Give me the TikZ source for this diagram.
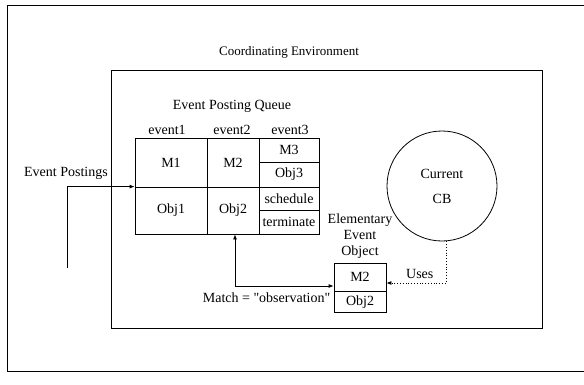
\documentclass[tikz,border=0pt]{standalone}
\usepackage{fontspec}
\setmainfont{Liberation Serif}
\usepackage{tikz}
\usetikzlibrary{arrows.meta, positioning, calc}

\tikzset{
    cell/.style={draw, inner sep=0pt, line width=0.8pt},
    lbl/.style={inner sep=1pt},
}

\begin{document}
\begin{tikzpicture}[x=1pt, y=-1pt, line width=0.8pt, font=\fontsize{14}{16}\selectfont]
    \useasboundingbox (0,0) rectangle (584,384);
    % frames
    \draw (584,5) -- (7,5) -- (7,371) -- (584,371);
    \draw (111,70) rectangle (542,328);
    \node[lbl, font=\fontsize{13}{16}\selectfont] (env) at (289,52) {Coordinating Environment};

    % event posting queue
    \node[lbl] (queue) at (232,106) {Event Posting Queue};
    \node[cell, minimum width=72, minimum height=49] (m1) at (171,162.5) {M1};
    \node[cell, minimum width=72, minimum height=47] (obj1) at (171,210.5) {Obj1};
    \node[cell, minimum width=52, minimum height=49] (m2) at (233,162.5) {M2};
    \node[cell, minimum width=52, minimum height=47] (obj2) at (233,210.5) {Obj2};
    \node[cell, minimum width=60, minimum height=24] (m3) at (289,150) {M3};
    \node[cell, minimum width=60, minimum height=25] (obj3) at (289,174.5) {Obj3};
    \node[cell, minimum width=60, minimum height=23] (sched) at (289,198.5) {schedule};
    \node[cell, minimum width=60, minimum height=24] (term) at (289,222) {terminate};
    \node[lbl] (ev1) at (167,130) {event1};
    \node[lbl] (ev2) at (232,130) {event2};
    \node[lbl] (ev3) at (290,130) {event3};

    % postings in
    \node[lbl] (post) at (66,173) {Event Postings};
    \coordinate (src) at (67,268);
    \draw[-{Latex[length=5pt,width=4pt]}] (src) |- (obj1.north west);

    % current CB
    \node[draw, circle, minimum size=110, inner sep=0pt, align=center] (cb) at (442,186) {Current\\[9pt]CB};

    % elementary event object
    \node[cell, minimum width=52, minimum height=28] (elm) at (360,277) {M2};
    \node[cell, minimum width=52, minimum height=21, below=0pt of elm] (elo) {Obj2};
    \node[lbl, align=center, above=3pt of elm] (eeo) {Elementary\\Event\\Object};

    \draw[dotted, -{Latex[length=5pt,width=4pt]}] ([xshift=4]cb.south) |- ([yshift=-6]elm.east)
        node[pos=0.72, above=1pt] {Uses};
    \draw[{Latex[length=5pt,width=4pt]}-{Latex[length=5pt,width=4pt]}] ([xshift=2]obj2.south) |- ([yshift=-9]elm.west)
        node[pos=0.66, below=3pt] {Match = \textquotedbl observation\textquotedbl};
\end{tikzpicture}
\end{document}
